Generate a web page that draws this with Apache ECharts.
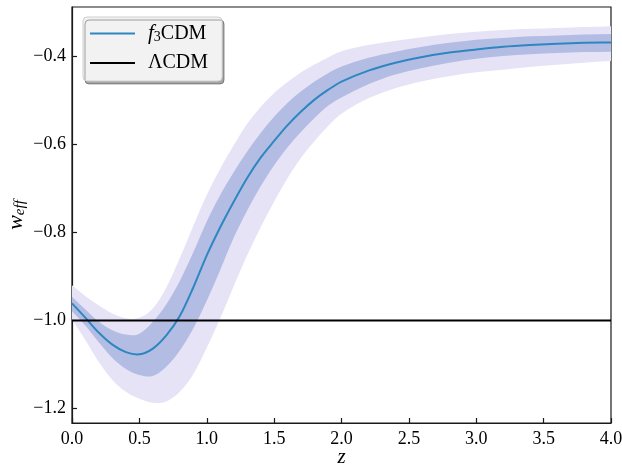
<!DOCTYPE html>
<html>
<head>
<meta charset="utf-8">
<script src="https://cdn.jsdelivr.net/npm/echarts@6/dist/echarts.min.js"></script>
<style>
html,body{margin:0;padding:0;background:#fff;}
#chart{width:622px;height:465px;}
</style>
</head>
<body>
<div id="chart"></div>
<script>
// ---- data ----
const zVals = [0,0.1,0.2,0.3,0.4,0.5,0.6,0.7,0.8,0.9,1.0,1.1,1.2,1.3,1.4,1.5,1.6,1.7,1.8,1.9,2.0,
               2.2,2.4,2.6,2.8,3.0,3.2,3.4,3.6,3.8,4.0];
const wCenter = [-0.961,-0.994,-1.028,-1.055,-1.072,-1.077,-1.064,-1.034,-0.990,-0.925,-0.852,-0.788,-0.730,-0.676,-0.630,-0.592,-0.556,-0.525,-0.498,-0.476,-0.457,
                 -0.432,-0.414,-0.401,-0.391,-0.384,-0.378,-0.374,-0.371,-0.369,-0.368];
const inner1Upper = [-0.946,-0.975,-1.003,-1.022,-1.032,-1.030,-1.003,-0.963,-0.910,-0.845,-0.775,-0.715,-0.663,-0.616,-0.574,-0.537,-0.505,-0.479,-0.457,-0.438,-0.423,
                     -0.403,-0.389,-0.378,-0.369,-0.362,-0.358,-0.354,-0.352,-0.350,-0.349];
const inner1Lower = [-0.979,-1.012,-1.050,-1.085,-1.110,-1.124,-1.126,-1.105,-1.068,-1.018,-0.955,-0.885,-0.812,-0.750,-0.695,-0.647,-0.606,-0.571,-0.540,-0.512,-0.493,
                     -0.463,-0.441,-0.426,-0.414,-0.405,-0.399,-0.395,-0.392,-0.390,-0.389];
const outer2Upper = [-0.920,-0.945,-0.966,-0.984,-0.995,-0.994,-0.973,-0.925,-0.858,-0.785,-0.715,-0.655,-0.602,-0.553,-0.515,-0.483,-0.458,-0.436,-0.418,-0.402,-0.388,
                     -0.374,-0.364,-0.356,-0.349,-0.344,-0.340,-0.337,-0.335,-0.333,-0.331];
const outer2Lower = [-0.997,-1.045,-1.095,-1.135,-1.162,-1.178,-1.187,-1.184,-1.162,-1.122,-1.062,-0.995,-0.922,-0.852,-0.788,-0.730,-0.676,-0.630,-0.592,-0.558,-0.530,
                     -0.495,-0.472,-0.456,-0.445,-0.436,-0.430,-0.424,-0.419,-0.414,-0.410];
const lcdmZ = [0, 4];
const lcdmW = [-1, -1];
const xTicks = [0,0.5,1.0,1.5,2.0,2.5,3.0,3.5,4.0];
const yTicks = [-1.2,-1.0,-0.8,-0.6,-0.4];

// ---- helpers ----
const FONT = 'Liberation Serif';
const fmt = v => (Math.round(v * 10) / 10).toFixed(1).replace('-', '\u2212');
const pairs = (xs, ys) => xs.map((x, i) => [x, ys[i]]);

// cubic Hermite path through pixel points, finite-difference tangents
function smoothSegments(P) {
  const n = P.length;
  const m = [];
  for (let i = 0; i < n; i++) {
    const a = P[Math.max(0, i - 1)], b = P[Math.min(n - 1, i + 1)];
    m[i] = (b[1] - a[1]) / (b[0] - a[0]);
  }
  let s = '';
  for (let i = 0; i < n - 1; i++) {
    const h = P[i+1][0] - P[i][0];
    const c1 = [P[i][0] + h / 3, P[i][1] + m[i] * h / 3];
    const c2 = [P[i+1][0] - h / 3, P[i+1][1] - m[i+1] * h / 3];
    s += ' C' + c1[0] + ' ' + c1[1] + ' ' + c2[0] + ' ' + c2[1] + ' ' + P[i+1][0] + ' ' + P[i+1][1];
  }
  return s;
}
function bandSeries(name, up, lo, color, z) {
  return {
    name, type: 'custom', coordinateSystem: 'cartesian2d', clip: true, silent: true, z,
    data: pairs(zVals, up),
    renderItem: (params, api) => {
      if (params.dataIndex !== 0) return null;
      const U = zVals.map((x, i) => api.coord([x, up[i]]));
      const L = zVals.map((x, i) => api.coord([x, lo[i]])).reverse();
      const d = 'M' + U[0][0] + ' ' + U[0][1] + smoothSegments(U) +
                ' L' + L[0][0] + ' ' + L[0][1] + smoothSegments(L) + ' Z';
      return { type: 'path', shape: { pathData: d }, style: { fill: color, stroke: null } };
    }
  };
}

const chart = echarts.init(document.getElementById('chart'), null, { renderer: 'canvas' });
chart.setOption({
  animation: false,
  backgroundColor: '#ffffff',
  grid: { left: 72, right: 11, top: 7, bottom: 42, outerBoundsMode: 'none', containLabel: false,
          show: true, borderColor: '#1a1a1a', borderWidth: 1.2, backgroundColor: 'transparent' },
  xAxis: {
    type: 'value', min: 0, max: 4, interval: 0.5,
    name: 'z', nameLocation: 'middle', nameGap: 24, nameMoveOverlap: false,
    nameTextStyle: { fontFamily: FONT, fontStyle: 'italic', fontSize: 21, color: '#000' },
    axisLine: { show: true, onZero: false, lineStyle: { color: '#1a1a1a', width: 1.2 } },
    axisTick: { show: true, inside: true, length: 5, lineStyle: { color: '#1a1a1a', width: 1.2 } },
    axisLabel: { fontFamily: FONT, fontSize: 18, color: '#000', margin: 7, formatter: v => fmt(v) },
    splitLine: { show: false }
  },
  yAxis: {
    type: 'value', min: -1.233, max: -0.2875,
    name: '{w|w}{s|eff}', nameLocation: 'middle', nameGap: 44, nameRotate: 90, nameMoveOverlap: false,
    nameTextStyle: {
      fontFamily: FONT, color: '#000',
      rich: {
        w: { fontFamily: FONT, fontStyle: 'italic', fontSize: 22, color: '#000' },
        s: { fontFamily: FONT, fontStyle: 'italic', fontSize: 15, color: '#000', padding: [8, 0, 0, 0] }
      }
    },
    axisLine: { show: true, onZero: false, lineStyle: { color: '#1a1a1a', width: 1.2 } },
    axisTick: { show: true, inside: true, length: 5, customValues: yTicks, lineStyle: { color: '#1a1a1a', width: 1.2 } },
    axisLabel: { fontFamily: FONT, fontSize: 18, color: '#000', margin: 6, customValues: yTicks, formatter: v => fmt(v) },
    splitLine: { show: false }
  },
  legend: {
    left: 83, top: 17, orient: 'vertical',
    data: [{ name: 'f3CDM' }, { name: '\u039BCDM' }],
    icon: 'rect', itemWidth: 45, itemHeight: 2, itemGap: 9,
    padding: [6, 14, 8, 7],
    backgroundColor: '#f2f2f2', borderColor: '#cfcfcf', borderWidth: 1, borderRadius: 4,
    shadowColor: 'rgba(0,0,0,0.35)', shadowOffsetX: 2, shadowOffsetY: 3, shadowBlur: 0,
    formatter: n => n === 'f3CDM' ? '{i|f}{s|3}{t|CDM}' : '{t|\u039BCDM}',
    textStyle: {
      fontFamily: FONT, fontSize: 20, color: '#000', lineHeight: 20, padding: [0, 0, 0, 8],
      rich: {
        i: { fontFamily: FONT, fontStyle: 'italic', fontSize: 21, color: '#000' },
        s: { fontFamily: FONT, fontSize: 14, color: '#000', padding: [7, 0, 0, 0] },
        t: { fontFamily: FONT, fontSize: 20, color: '#000' }
      }
    }
  },
  series: [
    bandSeries('outerBand', outer2Upper, outer2Lower, '#e7e3f6', 1),
    bandSeries('innerBand', inner1Upper, inner1Lower, '#b3bde3', 2),
    {
      name: 'f3CDM', type: 'custom', coordinateSystem: 'cartesian2d', clip: true, z: 3,
      itemStyle: { color: '#2e86c0' },
      data: pairs(zVals, wCenter),
      renderItem: (params, api) => {
        if (params.dataIndex !== 0) return null;
        const C = zVals.map((x, i) => api.coord([x, wCenter[i]]));
        return { type: 'path', shape: { pathData: 'M' + C[0][0] + ' ' + C[0][1] + smoothSegments(C) },
                 style: { fill: null, stroke: '#2e86c0', lineWidth: 2 } };
      }
    },
    { name: '\u039BCDM', type: 'line', data: pairs(lcdmZ, lcdmW), symbol: 'none',
      color: '#000', lineStyle: { color: '#000', width: 2 }, z: 4 }
  ]
});
</script>
</body>
</html>
